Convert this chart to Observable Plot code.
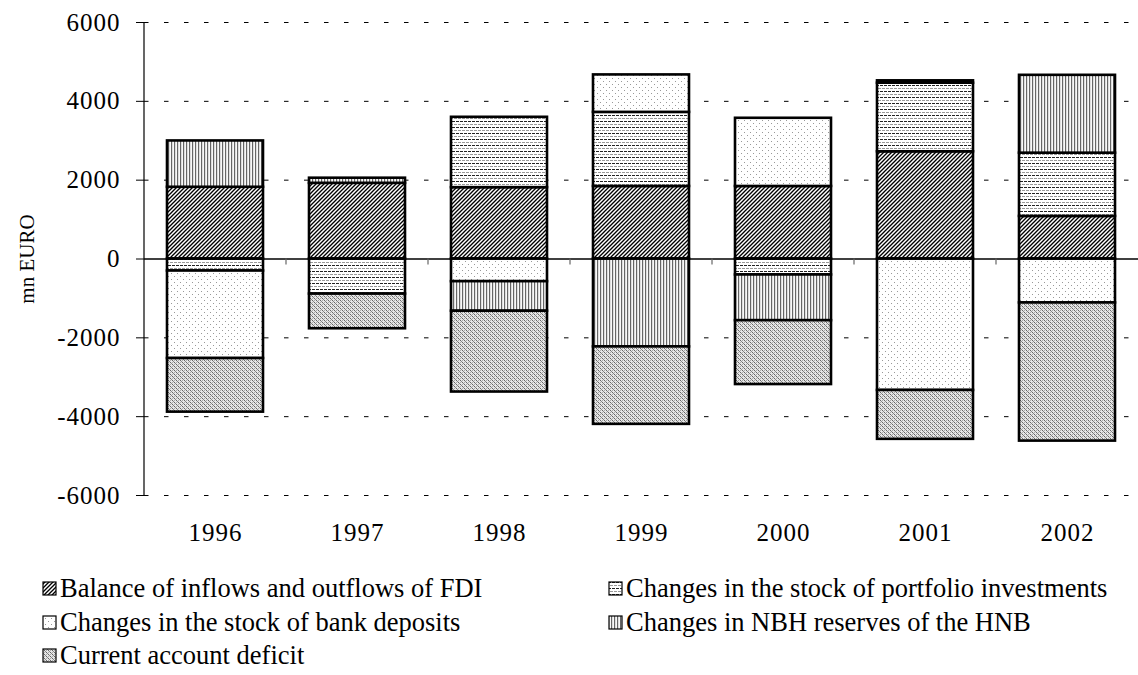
<!DOCTYPE html>
<html>
<head>
<meta charset="utf-8">
<script src="https://cdn.jsdelivr.net/npm/d3@7"></script>
<script src="https://cdn.jsdelivr.net/npm/@observablehq/plot@0.6"></script>
<style>
  body { margin: 0; background: #fff; font-family: "Liberation Serif", "DejaVu Serif", serif; }
  #legend { display: grid; grid-template-columns: 566px auto; grid-auto-rows: 33.5px;
            padding-left: 42px; margin-top: 17px; font-size: 26.5px; color: #000; }
  .item { display: flex; align-items: center; white-space: nowrap; }
  .item svg { margin-right: 3px; flex: none; }
  .tick-digits text { font-family: "Liberation Serif", serif; letter-spacing: 1px; }
</style>
</head>
<body>
<svg width="0" height="0" style="position:absolute">
  <defs>
    <pattern id="pFDI" patternUnits="userSpaceOnUse" width="4" height="4">
      <rect width="4" height="4" fill="#fff"/>
      <path d="M-1,1 l2,-2 M0,4 l4,-4 M3,5 l2,-2" stroke="#000" stroke-width="1.35"/>
    </pattern>
    <pattern id="pPort" patternUnits="userSpaceOnUse" width="8" height="6">
      <rect width="8" height="6" fill="#fff"/>
      <path d="M0,1.5 h8" stroke="#222" stroke-width="1" stroke-dasharray="3 1"/>
      <path d="M0,4.5 h8" stroke="#999" stroke-width="1" stroke-dasharray="3 1" stroke-dashoffset="2"/>
    </pattern>
    <pattern id="pDep" patternUnits="userSpaceOnUse" width="6" height="6">
      <rect width="6" height="6" fill="#fff"/>
      <rect x="0" y="0" width="1" height="1" fill="#999"/>
      <rect x="3" y="3" width="1" height="1" fill="#999"/>
    </pattern>
    <pattern id="pRes" patternUnits="userSpaceOnUse" width="3" height="3">
      <rect width="3" height="3" fill="#fff"/>
      <rect x="0" y="0" width="1" height="3" fill="#666"/>
      <rect x="1.5" y="0" width="0.6" height="3" fill="#bbb"/>
    </pattern>
    <pattern id="pCA" patternUnits="userSpaceOnUse" width="4" height="4">
      <rect width="4" height="4" fill="#e6e6e6"/>
      <rect x="0" y="0" width="1" height="1" fill="#666"/>
      <rect x="1" y="1" width="1" height="1" fill="#888"/>
      <rect x="2" y="2" width="1" height="1" fill="#666"/>
      <rect x="3" y="3" width="1" height="1" fill="#888"/>
      <rect x="2" y="0" width="1" height="1" fill="#aaa"/>
      <rect x="0" y="2" width="1" height="1" fill="#aaa"/>
    </pattern>
  </defs>
</svg>
<div id="chart"></div>
<div id="legend"></div>
<script>
const years = ["1996", "1997", "1998", "1999", "2000", "2001", "2002"];
const seriesNames = [
  "Balance of inflows and outflows of FDI",
  "Changes in the stock of portfolio investments",
  "Changes in the stock of bank deposits",
  "Changes in NBH reserves of the HNB",
  "Current account deficit"
];
const fdi       = [1820, 1920, 1810, 1840, 1840, 2720, 1080];
const portfolio = [-305, -890, 1785, 1880, -405, 1740, 1605];
const deposits  = [-2220, 0, -575, 950, 1730, -3335, -1115];
const reserves  = [1175, 130, -750, -2230, -1160, 60, 1975];
const currentAccount = [-1360, -880, -2050, -1965, -1620, -1240, -3505];
const yTicks = [-6000, -4000, -2000, 0, 2000, 4000, 6000];
const patternIds = ["pFDI", "pPort", "pDep", "pRes", "pCA"];

const seriesValues = [fdi, portfolio, deposits, reserves, currentAccount];
const data = [];
years.forEach((year, i) => {
  seriesNames.forEach((s, k) => {
    const v = seriesValues[k][i];
    if (v !== 0) data.push({year, series: s, value: v});
  });
});

function decor(index, scales, values, dimensions) {
  const {x, y} = scales;
  const bw = typeof x.bandwidth === "function" ? x.bandwidth() : x.bandwidth;
  const step = x(years[1]) - x(years[0]);
  const g = d3.create("svg:g");
  g.append("line")
    .attr("x1", dimensions.marginLeft).attr("x2", dimensions.marginLeft)
    .attr("y1", y(yTicks[yTicks.length - 1])).attr("y2", y(yTicks[0]))
    .attr("stroke", "#000").attr("stroke-width", 1.2);
  const y0 = y(0);
  years.slice(0, -1).forEach(yr => {
    const bx = x(yr) + (step + bw) / 2;
    g.append("line")
      .attr("x1", bx).attr("x2", bx)
      .attr("y1", y0).attr("y2", y0 + 6)
      .attr("stroke", "#666").attr("stroke-width", 1.2);
  });
  return g.node();
}

const chart = Plot.plot({
  width: 1138,
  height: 555,
  marginLeft: 144,
  marginRight: 0,
  marginTop: 22,
  marginBottom: 60,
  style: {fontFamily: "'Liberation Serif', serif", fontSize: "20px", color: "#000", background: "#fff"},
  x: {domain: years, paddingInner: 0.324, paddingOuter: 0.162, label: null},
  y: {domain: [-6000, 6000], label: null},
  color: {type: "ordinal", domain: seriesNames, range: patternIds.map(id => `url(#${id})`)},
  marks: [
    Plot.gridY(yTicks.filter(d => d !== 0), {stroke: "#000", strokeOpacity: 1, strokeWidth: 1, strokeDasharray: "4.5,15.5"}),
    Plot.axisY({ticks: yTicks, tickSize: 8, tickPadding: 16, tickFormat: d => String(d), label: null, fontSize: 25, stroke: "#000", className: "tick-digits"}),
    Plot.axisX({tickSize: 0, tickPadding: 28, label: null, fontSize: 25, className: "tick-digits"}),
    Plot.barY(data, {x: "year", y: "value", fill: "series", stroke: "#000", strokeWidth: 2.6}),
    Plot.ruleY([0], {stroke: "#000", strokeWidth: 1.5}),
    decor,
    Plot.text(["mn EURO"], {frameAnchor: "left", dx: -117, rotate: -90, textAnchor: "middle", fontSize: 21, fill: "#000"})
  ]
});
document.getElementById("chart").appendChild(chart);

const legend = d3.select("#legend");
seriesNames.forEach((s, k) => {
  const item = legend.append("div").attr("class", "item");
  const sw = item.append("svg").attr("width", 15).attr("height", 15);
  sw.append("rect").attr("x", 1).attr("y", 1).attr("width", 13).attr("height", 13)
    .attr("fill", `url(#${patternIds[k]})`).attr("stroke", "#000").attr("stroke-width", 1.2);
  item.append("span").text(s);
});
</script>
</body>
</html>
